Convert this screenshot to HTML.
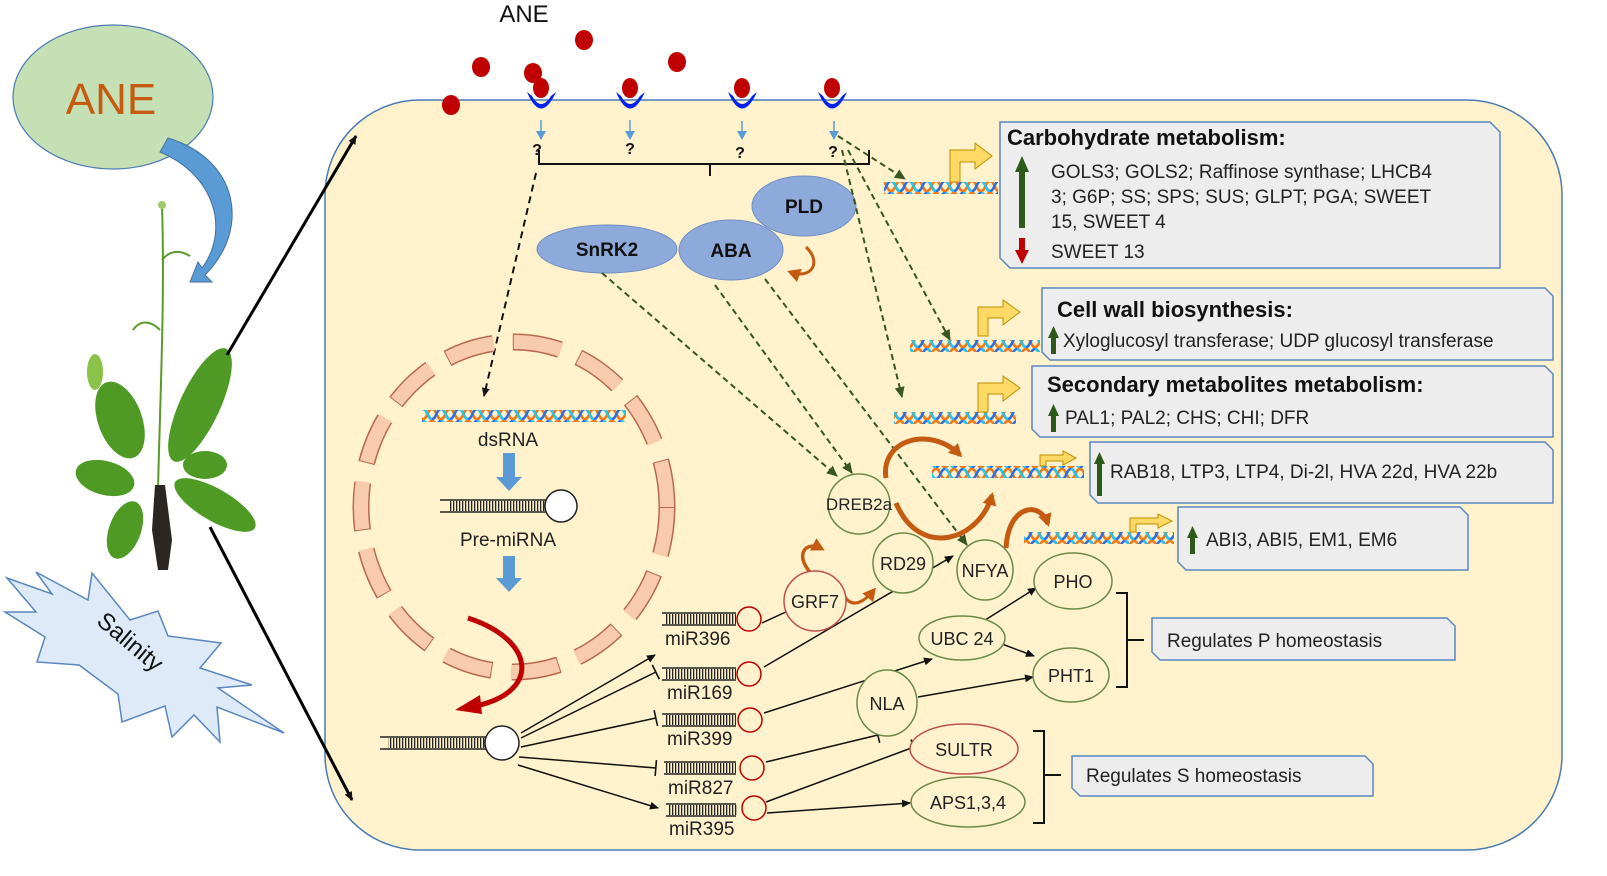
<!DOCTYPE html>
<html><head><meta charset="utf-8"><style>
html,body{margin:0;padding:0;background:#fff}
svg{display:block}
text{font-family:"Liberation Sans",Arial,sans-serif}
</style></head><body>
<svg width="1607" height="876" viewBox="0 0 1607 876" xmlns="http://www.w3.org/2000/svg">
<defs>
<pattern id="dna" width="18" height="12" patternUnits="userSpaceOnUse">
<path d="M0,1 C4.5,1 4.5,11 9,11 C13.5,11 13.5,1 18,1" fill="none" stroke="#f07a1a" stroke-width="2.6"/>
<path d="M0,11 C4.5,11 4.5,1 9,1 C13.5,1 13.5,11 18,11" fill="none" stroke="#2f6fe0" stroke-width="2.6"/>
<path d="M9,1 C13.5,1 13.5,11 18,11" fill="none" stroke="#27c3e8" stroke-width="2.6"/>
</pattern>
<pattern id="stem" width="3" height="10" patternUnits="userSpaceOnUse"><rect x="0" y="0" width="1.3" height="10" fill="#222"/></pattern>
<marker id="ab" markerWidth="10" markerHeight="10" refX="8" refY="5" orient="auto" markerUnits="userSpaceOnUse"><path d="M0,1 L9,5 L0,9 Z" fill="#111"/></marker>
<marker id="ag" markerWidth="12" markerHeight="12" refX="10" refY="6" orient="auto" markerUnits="userSpaceOnUse"><path d="M0,1 L11,6 L0,11 Z" fill="#375623"/></marker>
<marker id="ablue" markerWidth="10" markerHeight="10" refX="8" refY="5" orient="auto" markerUnits="userSpaceOnUse"><path d="M0,0 L9,5 L0,10 Z" fill="#5b9bd5"/></marker>
<marker id="ao" markerWidth="16" markerHeight="16" refX="10" refY="8" orient="auto" markerUnits="userSpaceOnUse"><path d="M0,1 L13,8 L0,15 Z" fill="#c55a11"/></marker>
<marker id="tb" markerWidth="4" markerHeight="20" refX="2" refY="10" orient="auto" markerUnits="userSpaceOnUse"><rect x="1" y="2" width="1.6" height="16" fill="#111"/></marker>
</defs>

<ellipse cx="113" cy="97" rx="100" ry="72" fill="#c5e0b4" stroke="#4a7ab5" stroke-width="1.2"/>
<text x="111" y="114" font-size="44" fill="#c55a11" text-anchor="middle">ANE</text>
<path d="M168,138 C240,160 250,230 205,275 L212,282 L190,282 L198,262 L202,268 C230,230 215,175 160,152 Z" fill="#5b9bd5" stroke="#41719c" stroke-width="1"/>

<g stroke="#5a9a2a" fill="none" stroke-width="2">
<path d="M158,490 C160,400 165,300 162,205"/>
<path d="M162,260 C170,250 180,250 190,256"/>
<path d="M160,330 C150,320 140,320 133,330"/>
</g>
<g fill="#4e9a25">
<ellipse cx="200" cy="405" rx="20" ry="62" transform="rotate(25 200 405)"/>
<ellipse cx="120" cy="420" rx="22" ry="40" transform="rotate(-20 120 420)"/>
<ellipse cx="105" cy="478" rx="30" ry="17" transform="rotate(15 105 478)"/>
<ellipse cx="215" cy="505" rx="46" ry="16" transform="rotate(30 215 505)"/>
<ellipse cx="125" cy="530" rx="16" ry="30" transform="rotate(20 125 530)"/>
<ellipse cx="205" cy="465" rx="22" ry="14"/>
<ellipse cx="95" cy="372" rx="8" ry="18" fill="#8bc34a"/>
<circle cx="162" cy="205" r="4" fill="#9ccc65"/>
</g>
<path d="M155,485 L165,485 L172,540 L168,570 L158,570 L152,530 Z" fill="#2b2622"/>

<polygon points="7,578 52,594 36,572 88,600 92,573 130,620 158,611 168,636 221,643 200,668 252,685 218,688 284,733 217,707 220,742 194,715 172,737 165,706 122,722 118,694 79,665 37,662 45,637 5,612 36,612" fill="#deeaf7" stroke="#5b86c0" stroke-width="1.5"/>
<text x="125" y="648" font-size="24" fill="#111" text-anchor="middle" transform="rotate(40 125 648)">Salinity</text>

<rect x="325" y="100" width="1237" height="750" rx="95" ry="95" fill="#fff2cc" stroke="#4a7ab5" stroke-width="1.5"/>
<line x1="227" y1="355" x2="356" y2="136" stroke="#000" stroke-width="3" marker-end="url(#ab)"/>
<line x1="210" y1="527" x2="352" y2="800" stroke="#000" stroke-width="3" marker-end="url(#ab)"/>

<text x="524" y="22" font-size="24" fill="#111" text-anchor="middle">ANE</text>
<g fill="#c00000">
<ellipse cx="451" cy="105" rx="9" ry="10"/><ellipse cx="481" cy="67" rx="9" ry="10"/>
<ellipse cx="533" cy="73" rx="9" ry="10"/><ellipse cx="584" cy="40" rx="9" ry="10"/>
<ellipse cx="677" cy="62" rx="9" ry="10"/>
</g>
<g>
<path d="M527,92 Q541,125 556,92 L551,96 Q541,112 532,96 Z" fill="#0022ee"/><ellipse cx="541" cy="88" rx="8" ry="10" fill="#c00000"/>
<path d="M616,92 Q630,125 645,92 L640,96 Q630,112 621,96 Z" fill="#0022ee"/><ellipse cx="630" cy="88" rx="8" ry="10" fill="#c00000"/>
<path d="M728,92 Q742,125 757,92 L752,96 Q742,112 733,96 Z" fill="#0022ee"/><ellipse cx="742" cy="88" rx="8" ry="10" fill="#c00000"/>
<path d="M818,92 Q832,125 847,92 L842,96 Q832,112 823,96 Z" fill="#0022ee"/><ellipse cx="832" cy="88" rx="8" ry="10" fill="#c00000"/>
</g>
<g stroke="#5b9bd5" stroke-width="1.5">
<line x1="541" y1="120" x2="541" y2="139" marker-end="url(#ablue)"/>
<line x1="630" y1="120" x2="630" y2="139" marker-end="url(#ablue)"/>
<line x1="742" y1="121" x2="742" y2="139" marker-end="url(#ablue)"/>
<line x1="834" y1="121" x2="834" y2="139" marker-end="url(#ablue)"/>
</g>
<g font-size="16" font-weight="bold" fill="#111" text-anchor="middle">
<text x="537" y="155">?</text><text x="630" y="154">?</text><text x="740" y="158">?</text><text x="833" y="157">?</text>
</g>
<path d="M539,150 L539,164 L869,164 L869,150 M710,164 L710,176" fill="none" stroke="#111" stroke-width="2"/>

<ellipse cx="804" cy="206" rx="52" ry="30" fill="#8eaadb" stroke="#6f8fc5"/>
<text x="804" y="213" font-size="19" font-weight="bold" text-anchor="middle" fill="#111">PLD</text>
<ellipse cx="731" cy="250" rx="52" ry="30" fill="#8eaadb" stroke="#6f8fc5"/>
<text x="731" y="257" font-size="19" font-weight="bold" text-anchor="middle" fill="#111">ABA</text>
<ellipse cx="607" cy="249" rx="70" ry="24" fill="#8eaadb" stroke="#6f8fc5"/>
<text x="607" y="256" font-size="19" font-weight="bold" text-anchor="middle" fill="#111">SnRK2</text>
<path d="M806,247 C822,262 812,280 790,272" fill="none" stroke="#c55a11" stroke-width="3" marker-end="url(#ao)"/>

<line x1="536" y1="173" x2="484" y2="396" stroke="#111" stroke-width="2" stroke-dasharray="7,5" marker-end="url(#ab)"/>
<g stroke="#375623" stroke-width="2" stroke-dasharray="6,4" fill="none">
<line x1="838" y1="136" x2="905" y2="179" marker-end="url(#ag)"/>
<line x1="848" y1="150" x2="950" y2="340" marker-end="url(#ag)"/>
<line x1="842" y1="150" x2="902" y2="397" marker-end="url(#ag)"/>
<line x1="602" y1="273" x2="837" y2="476" marker-end="url(#ag)"/>
<line x1="715" y1="285" x2="852" y2="473" marker-end="url(#ag)"/>
<line x1="765" y1="279" x2="967" y2="545" marker-end="url(#ag)"/>
</g>

<rect x="884" y="182" width="114" height="12" fill="url(#dna)"/>
<rect x="910" y="340" width="130" height="12" fill="url(#dna)"/>
<rect x="894" y="412" width="122" height="12" fill="url(#dna)"/>
<rect x="932" y="466" width="152" height="12" fill="url(#dna)"/>
<rect x="1024" y="532" width="150" height="12" fill="url(#dna)"/>
<g fill="#ffd966" stroke="#bf9000" stroke-width="1">
<path d="M950,182 L950,150 L975,150 L975,143 L992,156 L975,169 L975,162 L960,162 L960,182 Z"/>
<path d="M978,336 L978,307 L1003,307 L1003,300 L1020,312 L1003,325 L1003,318 L988,318 L988,336 Z"/>
<path d="M978,412 L978,383 L1003,383 L1003,376 L1020,388 L1003,401 L1003,394 L988,394 L988,412 Z"/>
<path d="M1040,466 L1040,455 L1063,455 L1063,451 L1076,458 L1063,465 L1063,461 L1046,461 L1046,466 Z"/>
<path d="M1130,532 L1130,518 L1158,518 L1158,514 L1172,521 L1158,528 L1158,524 L1136,524 L1136,532 Z"/>
</g>

<g fill="#ededed" stroke="#5b86c0" stroke-width="1.5">
<polygon points="1000,122 1490,122 1500,132 1500,268 1010,268 1000,258"/>
<polygon points="1042,288 1545,288 1553,296 1553,360 1050,360 1042,352"/>
<polygon points="1032,366 1545,366 1553,374 1553,437 1040,437 1032,429"/>
<polygon points="1090,442 1545,442 1553,450 1553,503 1098,503 1090,495"/>
<polygon points="1178,507 1460,507 1468,515 1468,570 1186,570 1178,562"/>
<polygon points="1152,618 1447,618 1455,626 1455,660 1160,660 1152,652"/>
<polygon points="1072,756 1365,756 1373,764 1373,796 1080,796 1072,788"/>
</g>
<g fill="#222" font-size="19">
<text x="1007" y="145" font-size="22" font-weight="bold" fill="#111">Carbohydrate metabolism:</text>
<text x="1051" y="178">GOLS3; GOLS2; Raffinose synthase;  LHCB4</text>
<text x="1051" y="203">3; G6P; SS; SPS; SUS; GLPT; PGA; SWEET</text>
<text x="1051" y="228">15, SWEET 4</text>
<text x="1051" y="258">SWEET 13</text>
<text x="1057" y="317" font-size="22" font-weight="bold" fill="#111">Cell wall biosynthesis:</text>
<text x="1063" y="347">Xyloglucosyl  transferase;  UDP glucosyl  transferase</text>
<text x="1047" y="392" font-size="22" font-weight="bold" fill="#111">Secondary metabolites metabolism:</text>
<text x="1065" y="424">PAL1; PAL2; CHS; CHI;  DFR</text>
<text x="1110" y="478">RAB18, LTP3, LTP4, Di-2l, HVA 22d, HVA 22b</text>
<text x="1206" y="546">ABI3, ABI5, EM1, EM6</text>
<text x="1167" y="647">Regulates  P homeostasis</text>
<text x="1086" y="782">Regulates  S homeostasis</text>
</g>
<g fill="#2d5a1b">
<rect x="1019" y="170" width="6" height="58"/><path d="M1015,172 L1022,156 L1029,172 Z"/>
<rect x="1051" y="336" width="5" height="18"/><path d="M1048,338 L1053.5,326 L1059,338 Z"/>
<rect x="1051" y="414" width="5" height="18"/><path d="M1048,416 L1053.5,404 L1059,416 Z"/>
<rect x="1097" y="462" width="5" height="34"/><path d="M1094,464 L1099.5,452 L1105,464 Z"/>
<rect x="1190" y="536" width="5" height="18"/><path d="M1187,538 L1192.5,526 L1198,538 Z"/>
</g>
<rect x="1019" y="238" width="6" height="14" fill="#c00000"/><path d="M1015,250 L1022,264 L1029,250 Z" fill="#c00000"/>

<ellipse cx="514" cy="507" rx="153" ry="165" fill="none" stroke="#b86a50" stroke-width="17" stroke-dasharray="48,20"/>
<ellipse cx="514" cy="507" rx="153" ry="165" fill="none" stroke="#f8cbad" stroke-width="14" stroke-dasharray="48,20" stroke-dashoffset="-1" />
<rect x="422" y="410" width="204" height="12" fill="url(#dna)"/>
<text x="508" y="446" font-size="19" text-anchor="middle" fill="#222">dsRNA</text>
<path d="M503,453 L503,477 L496,477 L509,491 L522,477 L515,477 L515,453 Z" fill="#5b9bd5"/>
<rect x="450" y="501" width="100" height="10" fill="url(#stem)"/>
<path d="M440,500 L550,500 M440,512 L550,512" stroke="#222" stroke-width="1.5"/>
<circle cx="561" cy="506" r="16" fill="#fff" stroke="#222" stroke-width="1.5"/>
<text x="508" y="546" font-size="19" text-anchor="middle" fill="#222">Pre-miRNA</text>
<path d="M503,556 L503,578 L496,578 L509,592 L522,578 L515,578 L515,556 Z" fill="#5b9bd5"/>
<path d="M468,618 C535,640 540,690 480,705" fill="none" stroke="#c00000" stroke-width="5"/>
<path d="M480,695 L455,710 L482,714 Z" fill="#c00000"/>

<rect x="388" y="738" width="98" height="10" fill="url(#stem)"/>
<path d="M380,737 L486,737 M380,749 L486,749" stroke="#222" stroke-width="1.5"/>
<circle cx="502" cy="743" r="17" fill="#fff" stroke="#222" stroke-width="1.5"/>

<g stroke="#222" stroke-width="1.5">
<path d="M662,613 L736,613 M662,625 L736,625"/>
<path d="M662,668 L736,668 M662,680 L736,680"/>
<path d="M662,714 L736,714 M662,726 L736,726"/>
<path d="M664,762 L736,762 M664,774 L736,774"/>
<path d="M666,804 L736,804 M666,816 L736,816"/>
</g>
<g fill="url(#stem)">
<rect x="666" y="614" width="70" height="10"/><rect x="666" y="669" width="70" height="10"/>
<rect x="666" y="715" width="70" height="10"/><rect x="666" y="763" width="70" height="10"/>
<rect x="668" y="805" width="70" height="10"/>
</g>
<g fill="#fff2cc" stroke="#c00000" stroke-width="1.5">
<circle cx="749" cy="619" r="12"/><circle cx="749" cy="674" r="12"/><circle cx="750" cy="720" r="12"/>
<circle cx="752" cy="768" r="12"/><circle cx="754" cy="808" r="12"/>
</g>
<g font-size="19" fill="#222">
<text x="665" y="645">miR396</text><text x="667" y="699">miR169</text><text x="667" y="745">miR399</text>
<text x="668" y="794">miR827</text><text x="669" y="835">miR395</text>
</g>
<g stroke="#111" stroke-width="1.5" fill="none">
<line x1="521" y1="733" x2="655" y2="655" marker-end="url(#ab)"/>
<line x1="521" y1="738" x2="656" y2="672" marker-end="url(#tb)"/>
<line x1="521" y1="747" x2="656" y2="718" marker-end="url(#tb)"/>
<line x1="519" y1="757" x2="656" y2="768" marker-end="url(#tb)"/>
<line x1="518" y1="765" x2="658" y2="808" marker-end="url(#ab)"/>
<line x1="762" y1="623" x2="788" y2="611" marker-end="url(#tb)"/>
<line x1="764" y1="667" x2="953" y2="556" marker-end="url(#ab)"/>
<line x1="764" y1="713" x2="932" y2="659" marker-end="url(#ab)"/>
<line x1="766" y1="762" x2="878" y2="735" marker-end="url(#tb)"/>
<line x1="766" y1="802" x2="914" y2="747" marker-end="url(#tb)"/>
<line x1="767" y1="813" x2="910" y2="803" marker-end="url(#ab)"/>
<line x1="982" y1="622" x2="1036" y2="588" marker-end="url(#ab)"/>
<line x1="1002" y1="644" x2="1034" y2="656" marker-end="url(#ab)"/>
<line x1="918" y1="697" x2="1033" y2="677" marker-end="url(#ab)"/>
</g>

<g stroke="#c55a11" stroke-width="5" fill="none">
<path d="M886,478 C880,440 930,425 960,455" marker-end="url(#ao)"/>
<path d="M896,503 C920,560 980,540 992,495" marker-end="url(#ao)"/>
<path d="M1006,548 C1008,505 1040,500 1048,524" marker-end="url(#ao)"/>
<path d="M810,572 C795,555 805,540 822,549" stroke-width="3.5" marker-end="url(#ao)"/>
<path d="M845,597 C855,612 870,595 874,590" stroke-width="3" marker-end="url(#ao)"/>
</g>

<g fill="#fff2cc" stroke="#6a8a4a" stroke-width="1.5">
<ellipse cx="859" cy="504" rx="31" ry="30"/>
<ellipse cx="903" cy="563" rx="30" ry="30"/>
<ellipse cx="985" cy="570" rx="28" ry="30"/>
<ellipse cx="1073" cy="581" rx="39" ry="28"/>
<ellipse cx="962" cy="638" rx="43" ry="22"/>
<ellipse cx="1071" cy="675" rx="38" ry="27"/>
<ellipse cx="887" cy="703" rx="30" ry="33"/>
<ellipse cx="968" cy="802" rx="57" ry="25"/>
</g>
<g fill="#fff2cc" stroke="#c0504d" stroke-width="1.5">
<ellipse cx="815" cy="601" rx="31" ry="30"/>
<ellipse cx="964" cy="749" rx="54" ry="25"/>
</g>
<g font-size="18" fill="#222" text-anchor="middle">
<text x="859" y="510" font-size="17">DREB2a</text><text x="903" y="570">RD29</text><text x="985" y="577">NFYA</text>
<text x="815" y="608">GRF7</text><text x="1073" y="588">PHO</text><text x="962" y="645">UBC 24</text>
<text x="1071" y="682">PHT1</text><text x="887" y="710">NLA</text><text x="964" y="756">SULTR</text>
<text x="968" y="809">APS1,3,4</text>
</g>

<path d="M1116,593 L1127,593 L1127,687 L1116,687 M1127,640 L1144,640" fill="none" stroke="#111" stroke-width="2"/>
<path d="M1033,731 L1044,731 L1044,823 L1033,823 M1044,775 L1061,775" fill="none" stroke="#111" stroke-width="2"/>
</svg>
</body></html>
